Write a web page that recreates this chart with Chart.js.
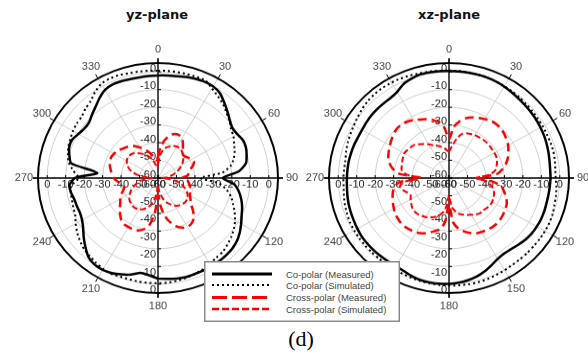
<!DOCTYPE html>
<html><head><meta charset="utf-8">
<script src="https://cdn.jsdelivr.net/npm/chart.js@4.4.1/dist/chart.umd.min.js"></script>
<style>
html,body{margin:0;padding:0;background:#fff;}
body{width:588px;height:356px;position:relative;overflow:hidden;}
.wrap{position:absolute;top:28px;width:300px;height:300px;transform:scaleY(0.958);transform-origin:0 150px;}
.wrap canvas{display:block;}
.title{position:absolute;top:7px;font:bold 13px "DejaVu Sans",sans-serif;line-height:16px;color:#111;transform:translateX(-50%);white-space:nowrap;}
#cap{position:absolute;left:301px;top:326px;transform:translateX(-50%);font:22px "Liberation Serif","Times New Roman",serif;line-height:26px;color:#000;}
#legend{position:absolute;left:204px;top:261px;}
</style></head>
<body>
<div class="title" style="left:157px">yz-plane</div>
<div class="title" style="left:449px">xz-plane</div>
<div class="wrap" style="left:0px"><canvas id="c1" width="300" height="300"></canvas></div>
<div class="wrap" style="left:291px"><canvas id="c2" width="300" height="300"></canvas></div>
<svg id="legend" width="196" height="61" xmlns="http://www.w3.org/2000/svg">
  <rect x="0.75" y="0.75" width="194.5" height="59.5" fill="#fff" stroke="#8a8a8a" stroke-width="1.5"/>
  <line x1="8" y1="13" x2="68" y2="13" stroke="#000" stroke-width="3"/>
  <line x1="8" y1="24" x2="68" y2="24" stroke="#000" stroke-width="2" stroke-dasharray="2 3"/>
  <line x1="8" y1="36.5" x2="68" y2="36.5" stroke="#f00" stroke-width="3" stroke-dasharray="15 5"/>
  <line x1="8" y1="48" x2="68" y2="48" stroke="#f00" stroke-width="2.5" stroke-dasharray="7 3"/>
  <g font-family="Liberation Sans, Arial, sans-serif" font-size="9.5" fill="#444">
    <text x="82" y="16.5">Co-polar (Measured)</text>
    <text x="82" y="27.5">Co-polar (Simulated)</text>
    <text x="82" y="40">Cross-polar (Measured)</text>
    <text x="82" y="51.5">Cross-polar (Simulated)</text>
  </g>
</svg>
<div id="cap">(d)</div>
<script>
// angle categories (degrees)
const angles = [0,5,10,15,20,25,30,35,40,45,50,55,60,65,70,75,80,85,90,95,100,105,110,115,120,125,130,135,140,145,150,155,160,165,170,175,180,185,190,195,200,205,210,215,220,225,230,235,240,245,250,255,260,265,270,275,280,285,290,295,300,305,310,315,320,325,330,335,340,345,350,355];
const angleTicks = [0,30,60,90,120,150,180,210,240,270,300,330];
const radialTicks = [0,-10,-20,-30,-40,-50,-60];

// yz-plane (dB)
const yzCoMeas = [-2.0,-1.8,-1.5,-0.9,-0.3,0.0,-0.2,-1.5,-4.2,-6.8,-9.2,-10.8,-10.4,-9.2,-9.3,-10.3,-11.6,-16,-25,-18.5,-15.5,-13.3,-11.5,-10,-8,-6,-4.3,-3.3,-2.8,-2.5,-2.4,-2.3,-2.2,-2,-2.3,-2.8,-3.2,-4.8,-5.5,-3.5,-2,-0.7,0,-0.2,-1.5,-4.5,-7.5,-10.5,-12.5,-13.4,-13.3,-13.1,-12.2,-11.8,-15,-27,-12.3,-10.3,-8.8,-8.7,-10.2,-11.3,-11.2,-9.4,-7.4,-4.8,-2.5,-1.7,-1.8,-2.1,-2.2,-2.1];
const yzCoSim = [0.7,0.8,0.8,0.8,0.9,0.9,-1.5,-3.5,-5.3,-7.6,-9.5,-11.7,-12.8,-14.5,-15.8,-17.5,-20,-25,-37,-27,-22.3,-19,-16.7,-14.2,-11.8,-9.8,-8.2,-6.8,-5.5,-5,-4,-3,-2.2,-1.5,-1.0,-0.6,-0.5,-0.5,-0.5,-0.7,-0.6,-0.2,-0.6,-1.5,-2.5,-3.3,-4.8,-6.5,-8.5,-10.5,-11.2,-11.8,-12,-13,-17,-14,-11,-9.5,-8.3,-7.6,-6.8,-6.3,-6,-4.5,-3.3,-0.6,1.5,2.0,1.9,1.3,1.1,0.9];
const yzCrossMeas = [-48,-42,-38,-35,-33.5,-33.2,-34,-36.5,-39,-41,-41,-40,-39,-38.5,-40,-42,-43,-44,-47,-44,-43,-42,-42,-41,-40,-38.5,-36.5,-33,-30,-28.5,-28,-29,-31,-34,-38,-44,-50,-40,-33,-30,-28.5,-28,-28,-28,-29,-31,-33,-35,-36.5,-38,-40,-41,-40,-38,-36,-35,-34,-33,-32.5,-32,-32.5,-33,-34.5,-35.5,-36.5,-38,-40,-42,-44,-46,-48,-50];
const yzCrossSim = [-52,-47,-44,-42,-41,-40,-39.5,-39.5,-40,-41,-42,-43.5,-45,-47,-49,-51,-53,-55,-58,-54,-50,-47,-45,-43,-41.5,-40.5,-40,-40,-40.5,-41,-42,-43.5,-45,-47,-49.5,-52,-56,-51,-47,-44,-42,-40.5,-39.5,-39,-39,-39.5,-40,-41,-42.5,-44,-46,-48,-50,-53,-57,-52,-48,-45,-43,-41.5,-40.5,-40,-40,-40.5,-41.5,-43,-44.5,-46,-48,-50,-52,-54];

// xz-plane (dB)
const xzCoMeas = [0.5,0.5,0.5,0.5,0.5,0.2,-0.3,-0.9,-1.4,-1.8,-2.1,-2.4,-2.8,-3.2,-3.7,-4.2,-4.7,-5.0,-5.0,-5.2,-5.3,-5.3,-5.1,-5.0,-5.1,-5.3,-5.9,-6.8,-7.6,-7.9,-7.2,-5.6,-3.8,-2.3,-1.3,-0.6,-0.2,0,-0.1,-0.3,-1.0,-2.0,-2.5,-2.5,-2.4,-2.3,-2.3,-2.3,-2.7,-3.1,-3.4,-3.7,-4.1,-4.5,-4.7,-4.8,-4.9,-5.1,-5.3,-5.6,-5.6,-5.3,-5.0,-4.9,-4.9,-4.8,-3.8,-1.5,-0.3,0.6,0.6,0.6];
const xzCoSim = [0.8,0.8,0.7,0.6,0.5,0.3,0,-0.3,-0.6,-0.9,-1.1,-1.3,-1.4,-1.5,-1.5,-1.5,-1.8,-2.2,-2.2,-1.6,-1.2,-0.9,-0.3,0,0,0,-0.1,-0.1,-0.1,-0.1,0.2,0.5,0.8,1.0,1.0,0.9,0.8,0.7,0.5,0.3,0,-0.3,-0.5,-0.6,-0.7,-0.7,-0.7,-0.7,-0.7,-0.8,-1.2,-1.6,-2.2,-2.7,-2.8,-3.0,-3.0,-2.3,-1.6,-1.1,-0.5,0.3,1.2,1.9,2.3,2.4,2.3,2.1,1.7,1.3,1.1,0.9];
const xzCrossMeas = [-38,-31,-27.5,-25,-23.5,-22.5,-21.5,-20.5,-20.2,-20.4,-21,-22,-23,-24.5,-26,-28,-30.5,-34,-45,-36,-31,-29,-27,-25.5,-24.8,-24.2,-23.7,-23.5,-23.7,-24.2,-24.8,-25.5,-27,-28.8,-31,-35,-45,-35,-30.5,-28.8,-27,-25.5,-24.5,-24,-23.6,-23.5,-24,-24.5,-25.5,-26.5,-27.5,-28.5,-30,-33,-45,-33,-29,-26.5,-25,-24,-23,-22,-21,-20.3,-20.4,-21,-22,-23.5,-24.5,-26,-28,-31.5];
const xzCrossSim = [-45,-42,-38,-34.5,-33,-32.5,-32,-31.8,-31.5,-31.4,-31.5,-31.6,-31.6,-31.7,-32.3,-33.3,-34.5,-38,-45,-40,-37,-35,-34,-33.5,-33,-33,-33.5,-34,-34,-35,-36,-37,-38,-39,-41,-44,-50,-44,-40,-38,-36.5,-35.5,-34.5,-34,-33.5,-33.5,-34,-35,-36,-37,-36,-34,-33,-36,-42,-37,-34,-33.5,-33,-32.5,-32,-32.5,-33,-33.5,-35,-36.5,-38,-39.5,-40.5,-41.5,-42.5,-44];

const polarDeco = {
  id: 'polarDeco',
  beforeDatasetsDraw(chart) {
    const s = chart.scales.r, c = chart.ctx;
    const cx = s.xCenter, cy = s.yCenter;
    const R = s.getDistanceFromCenterForValue(5);
    c.save();
    // outer circle
    c.strokeStyle = '#000'; c.lineWidth = 2;
    c.beginPath(); c.arc(cx, cy, R, 0, Math.PI * 2); c.stroke();
    // main axes
    c.lineWidth = 1.3;
    c.beginPath();
    c.moveTo(cx - R - 5, cy); c.lineTo(cx + R + 5, cy);
    c.moveTo(cx, cy - R - 5); c.lineTo(cx, cy + R + 5);
    c.stroke();
    // outer ticks
    c.lineWidth = 1;
    for (const a of angleTicks) {
      const t = a * Math.PI / 180, sn = Math.sin(t), cs = Math.cos(t);
      c.beginPath();
      c.moveTo(cx + sn * R, cy - cs * R);
      c.lineTo(cx + sn * (R + 5), cy - cs * (R + 5));
      c.stroke();
    }
    // axis ticks at rings
    for (const v of radialTicks) {
      const r = s.getDistanceFromCenterForValue(v);
      c.beginPath();
      c.moveTo(cx - r, cy); c.lineTo(cx - r, cy - 3);
      c.moveTo(cx + r, cy); c.lineTo(cx + r, cy - 3);
      c.moveTo(cx, cy - r); c.lineTo(cx + 3, cy - r);
      c.moveTo(cx, cy + r); c.lineTo(cx + 3, cy + r);
      c.stroke();
    }
    // radial labels
    c.font = '11px "Liberation Sans", Arial, sans-serif';
    c.fillStyle = '#222';
    for (const v of radialTicks) {
      const r = s.getDistanceFromCenterForValue(v);
      const txt = String(v);
      c.textAlign = 'right';
      c.textBaseline = 'bottom'; c.fillText(txt, cx - 2, cy - r + 2);
      c.textBaseline = 'top'; c.fillText(txt, cx - 2, cy + r + 1);
      c.textAlign = 'center';
      c.fillText(txt, cx - r, cy + 1);
      c.fillText(txt, cx + r, cy + 1);
    }
    // angle labels
    c.fillStyle = '#444';
    c.textAlign = 'center'; c.textBaseline = 'middle';
    for (const a of angleTicks) {
      const t = a * Math.PI / 180, rr = R + 14;
      c.fillText(String(a), cx + Math.sin(t) * rr, cy - Math.cos(t) * rr);
    }
    c.restore();
  }
};

function makeChart(id, coM, coS, crM, crS) {
  return new Chart(document.getElementById(id), {
    type: 'radar',
    data: {
      labels: angles,
      datasets: [
        { label: 'Co-polar (Measured)', data: coM, borderColor: '#000', borderWidth: 2.5, tension: 0.2 },
        { label: 'Co-polar (Simulated)', data: coS, borderColor: '#000', borderWidth: 2, borderDash: [2, 3], tension: 0.2 },
        { label: 'Cross-polar (Measured)', data: crM, borderColor: '#f00', borderWidth: 2.5, borderDash: [9, 5], tension: 0.3 },
        { label: 'Cross-polar (Simulated)', data: crS, borderColor: '#f00', borderWidth: 2, borderDash: [6, 3], tension: 0.3 }
      ]
    },
    options: {
      responsive: false,
      animation: false,
      devicePixelRatio: 1,
      layout: { padding: { left: 38, right: 22, top: 30, bottom: 30 } },
      elements: { point: { radius: 0, hoverRadius: 0 }, line: { fill: false } },
      plugins: { legend: { display: false }, tooltip: { enabled: false }, title: { display: false } },
      scales: {
        r: {
          min: -60, max: 5,
          startAngle: 0,
          ticks: { display: false, stepSize: 10 },
          pointLabels: { display: false },
          grid: { circular: true, lineWidth: 1, color: (ctx) => (ctx.tick && ctx.tick.value <= 0) ? '#cfcfcf' : 'rgba(0,0,0,0)' },
          angleLines: { display: true, color: '#cfcfcf', lineWidth: (ctx) => (ctx.index % 6 === 0 ? 1 : 0) }
        }
      }
    },
    plugins: [polarDeco]
  });
}

makeChart('c1', yzCoMeas, yzCoSim, yzCrossMeas, yzCrossSim);
makeChart('c2', xzCoMeas, xzCoSim, xzCrossMeas, xzCrossSim);
</script>
</body></html>
